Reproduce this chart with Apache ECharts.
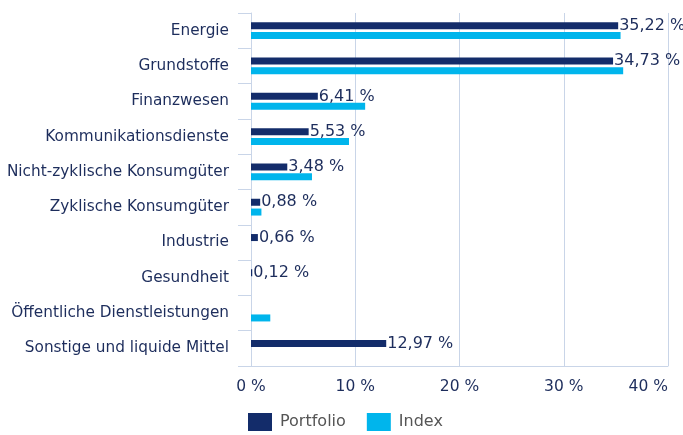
<!DOCTYPE html>
<html>
<head>
<meta charset="utf-8">
<script src="https://cdn.jsdelivr.net/npm/echarts@6/dist/echarts.min.js"></script>
<style>
html,body{margin:0;padding:0;background:#fff;}
#c{width:683px;height:435px;}
</style>
</head>
<body>
<div id="c"></div>
<script>
const categories = ["Energie","Grundstoffe","Finanzwesen","Kommunikationsdienste","Nicht-zyklische Konsumgüter","Zyklische Konsumgüter","Industrie","Gesundheit","Öffentliche Dienstleistungen","Sonstige und liquide Mittel"];
const portfolio = [35.22, 34.73, 6.41, 5.53, 3.48, 0.88, 0.66, 0.12, null, 12.97];
const indexVals = [35.45, 35.7, 10.95, 9.4, 5.85, 1.0, 0, 0, 1.85, 0];
const xTicks = [0, 10, 20, 30, 40];

const navy = '#132c6a';
const cyan = '#00b5ec';
const txt = '#1d2d5c';
const grid = '#c9d5e8';
const FF = 'DejaVu Sans';
const fmt = v => v.toFixed(2).replace('.', ',') + ' %';

const chart = echarts.init(document.getElementById('c'), null, {renderer:'canvas'});
chart.setOption({
  animation:false,
  textStyle:{fontFamily:FF},
  grid:{left:251, right:15, top:13, bottom:69, containLabel:false, outerBoundsMode:'none'},
  legend:{
    left:248, top:413, padding:0, itemWidth:24, itemHeight:18, itemGap:21,
    icon:'rect',
    textStyle:{fontSize:16, color:'#555', fontFamily:FF, padding:[0,0,0,3]},
    data:['Portfolio','Index']
  },
  xAxis:{
    type:'value', min:xTicks[0], max:xTicks[xTicks.length-1], interval:10,
    axisLine:{show:true, lineStyle:{color:grid}},
    axisTick:{show:false},
    splitLine:{show:true, lineStyle:{color:grid, width:1}},
    axisLabel:{color:txt, fontSize:15.5, fontFamily:FF, margin:13, alignMaxLabel:'right',
      formatter:v => v + ' %'}
  },
  yAxis:{
    type:'category', data:categories, inverse:true,
    axisLine:{show:true, lineStyle:{color:grid}},
    axisTick:{show:true, length:13, lineStyle:{color:grid}},
    axisLabel:{color:txt, fontSize:15.3, fontFamily:FF, margin:22}
  },
  series:[
    {
      name:'Portfolio', type:'bar', data:portfolio, barWidth:7, barGap:'40%',
      itemStyle:{color:navy},
      label:{show:true, position:'right', distance:1,
        color:txt, fontSize:16, fontFamily:FF,
        formatter:p => (p.value == null ? '' : fmt(p.value))}
    },
    {
      name:'Index', type:'bar', data:indexVals, barWidth:7,
      itemStyle:{color:cyan}
    }
  ]
});
</script>
</body>
</html>
